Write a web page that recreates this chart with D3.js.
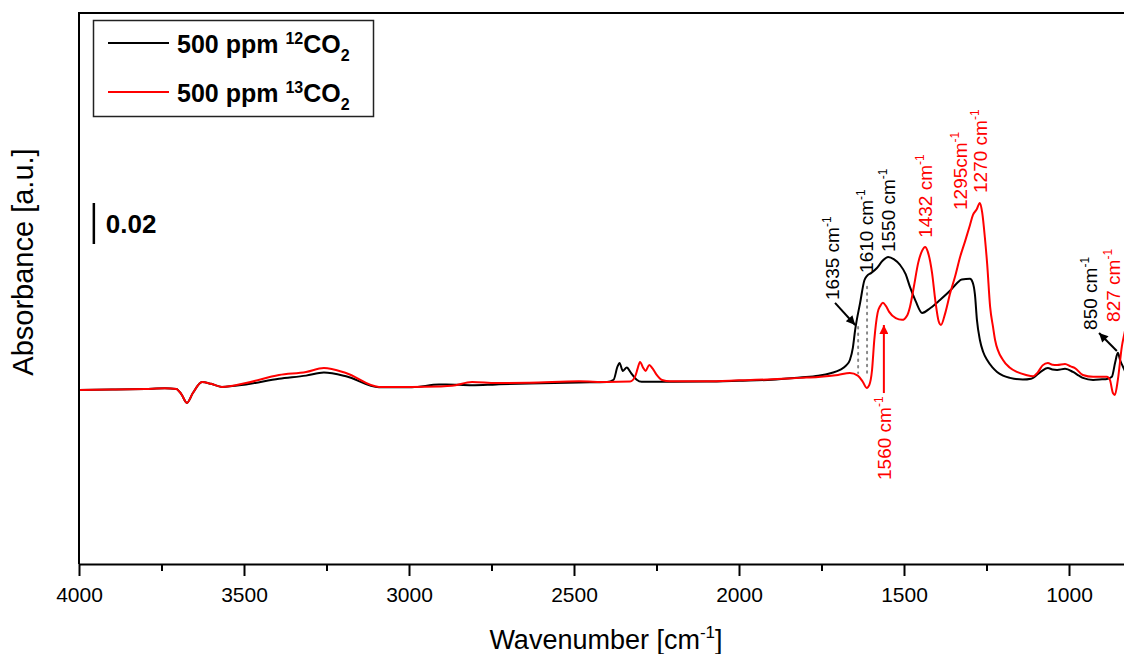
<!DOCTYPE html>
<html>
<head>
<meta charset="utf-8">
<script src="https://cdn.jsdelivr.net/npm/d3@7"></script>
<style>
  html, body { margin: 0; padding: 0; background: #fff; }
  svg { display: block; font-family: "Liberation Sans", Arial, sans-serif; }
</style>
</head>
<body>
<script>
// Infrared difference spectra after 500 ppm 12CO2 / 13CO2 exposure
const wnBlack = [4000,3900,3800,3740,3705,3690,3673,3655,3627,3600,3567,3494,3394,3312,3258,3191,3091,2991,2909,2888,2809,2736,2636,2485,2400,2380,2368,2362,2352,2340,2328,2310,2295,2200,2100,2000,1900,1815,1760,1720,1694,1675,1664,1655,1648,1633,1620,1612,1600,1582,1565,1548,1530,1512,1495,1482,1465,1445,1420,1391,1360,1339,1325,1300,1292,1285,1279,1270,1260,1248,1232,1218,1200,1179,1140,1115,1085,1064,1050,1036,1012,988,970,958,927,900,885,870,860,852,845,836,820,800,700];
const absBlack = [-0.0005,-0.0003,0.0000,0.0003,0.0000,-0.0025,-0.0068,-0.0020,0.0034,0.0025,0.0010,0.0022,0.0050,0.0065,0.0080,0.0062,0.0008,0.0008,0.0022,0.0022,0.0018,0.0022,0.0027,0.0032,0.0034,0.0045,0.0110,0.0127,0.0088,0.0105,0.0080,0.0045,0.0035,0.0035,0.0036,0.0040,0.0045,0.0056,0.0064,0.0078,0.0093,0.0115,0.0141,0.0200,0.0288,0.0420,0.0530,0.0552,0.0565,0.0590,0.0625,0.0644,0.0632,0.0605,0.0560,0.0498,0.0430,0.0371,0.0395,0.0434,0.0480,0.0517,0.0534,0.0537,0.0520,0.0460,0.0337,0.0239,0.0180,0.0141,0.0105,0.0083,0.0065,0.0054,0.0046,0.0050,0.0085,0.0102,0.0095,0.0093,0.0098,0.0083,0.0065,0.0054,0.0044,0.0047,0.0049,0.0060,0.0130,0.0176,0.0140,0.0107,0.0060,0.0050,0.0050];

const wnRed = [4000,3900,3800,3740,3705,3690,3673,3655,3627,3600,3567,3494,3394,3312,3258,3191,3091,2991,2909,2870,2809,2736,2636,2485,2400,2330,2315,2307,2300,2291,2283,2272,2262,2250,2233,2209,2100,2000,1900,1815,1760,1700,1664,1640,1625,1613,1605,1597,1590,1580,1572,1564,1555,1545,1525,1506,1490,1482,1470,1457,1445,1436,1428,1415,1405,1395,1388,1375,1360,1345,1330,1315,1300,1291,1280,1270,1263,1255,1248,1239,1230,1224,1200,1180,1158,1130,1109,1095,1080,1064,1050,1036,1012,995,982,958,927,885,876,867,861,852,840,830,815,800,700];
const absRed = [-0.0005,-0.0003,0.0000,0.0003,0.0000,-0.0025,-0.0068,-0.0020,0.0034,0.0025,0.0010,0.0029,0.0068,0.0083,0.0102,0.0078,0.0010,0.0010,0.0012,0.0015,0.0034,0.0029,0.0030,0.0037,0.0034,0.0036,0.0060,0.0100,0.0132,0.0105,0.0088,0.0117,0.0100,0.0070,0.0044,0.0038,0.0038,0.0042,0.0047,0.0054,0.0058,0.0068,0.0078,0.0065,0.0035,0.0005,0.0020,0.0090,0.0239,0.0371,0.0405,0.0420,0.0405,0.0376,0.0345,0.0337,0.0360,0.0400,0.0500,0.0615,0.0675,0.0693,0.0670,0.0566,0.0430,0.0330,0.0312,0.0370,0.0468,0.0550,0.0644,0.0720,0.0800,0.0849,0.0875,0.0907,0.0860,0.0740,0.0610,0.0400,0.0300,0.0239,0.0141,0.0105,0.0083,0.0068,0.0062,0.0080,0.0115,0.0127,0.0118,0.0117,0.0122,0.0110,0.0102,0.0068,0.0059,0.0059,0.0044,-0.0020,-0.0029,0.0044,0.0205,0.0288,0.0450,0.0600,0.0700];

const seriesNames = ["500 ppm ", "500 ppm "];
const seriesIsotopes = ["12", "13"];
const seriesColors = ["#000000", "#ff0000"];

const majorTicks = [4000, 3500, 3000, 2500, 2000, 1500, 1000];
const minorTicks = [3750, 3250, 2750, 2250, 1750, 1250, 750];

// Peak labels: text, superscript, colour, wavenumber / absorbance of the text start
const peakLabels = [
  { text: "1635 cm", sup: "-1", color: "#000", w: 1718, a: 0.0434 },
  { text: "1610 cm", sup: "-1", color: "#000", w: 1615, a: 0.0566 },
  { text: "1550 cm", sup: "-1", color: "#000", w: 1548, a: 0.0668 },
  { text: "1432 cm", sup: "-1", color: "#ff0000", w: 1436, a: 0.0737 },
  { text: "1295cm", sup: "-1", color: "#ff0000", w: 1330, a: 0.0873 },
  { text: "1270 cm", sup: "-1", color: "#ff0000", w: 1270, a: 0.0956 },
  { text: "1560 cm", sup: "-1", color: "#ff0000", w: 1561, a: -0.0444 },
  { text: "850 cm", sup: "-1", color: "#000", w: 936, a: 0.0288 },
  { text: "827 cm", sup: "-1", color: "#ff0000", w: 866, a: 0.0327 }
];

// Arrows from label to band: [w0, a0] -> [w1, a1]
const peakArrows = [
  { color: "#000", from: [1709, 0.0420], to: [1648, 0.0312] },
  { color: "#ff0000", from: [1561, -0.0020], to: [1561, 0.0312] },
  { color: "#000", from: [855, 0.0185], to: [909, 0.0273] }
];

// Dotted guides under the 1635/1610 cm-1 edge
const guideLines = [
  { w: 1612, a0: 0.0498, a1: 0.0078 },
  { w: 1639, a0: 0.0302, a1: 0.0078 }
];

const scaleBar = { w: 3955, a0: 0.0707, a1: 0.0907, label: "0.02" };

const W = 1124, H = 654;
const plotLeft = 79, plotTop = 13, plotBottom = 564;

const x = d3.scaleLinear().domain([4000, 600]).range([plotLeft, plotLeft + 3400 * 0.33]);
const y = d3.scaleLinear().domain([-0.0854, 0.1834]).range([plotBottom, plotTop]);

const svg = d3.select("body").append("svg").attr("width", W).attr("height", H);

const defs = svg.append("defs");
defs.append("clipPath").attr("id", "plot-clip")
  .append("rect").attr("x", plotLeft).attr("y", plotTop)
  .attr("width", x.range()[1] - plotLeft).attr("height", plotBottom - plotTop);

["#000", "#ff0000"].forEach((c, i) => {
  defs.append("marker").attr("id", "arrow" + i)
    .attr("viewBox", "0 0 10 10").attr("refX", 10).attr("refY", 5)
    .attr("markerWidth", 11).attr("markerHeight", 9).attr("markerUnits", "userSpaceOnUse")
    .attr("orient", "auto")
    .append("path").attr("d", "M0,0 L10,5 L0,10 z").attr("fill", c);
});

const plot = svg.append("g").attr("clip-path", "url(#plot-clip)");

// dotted guides
plot.selectAll("line.guide").data(guideLines).join("line")
  .attr("class", "guide")
  .attr("x1", d => x(d.w)).attr("x2", d => x(d.w))
  .attr("y1", d => y(d.a0)).attr("y2", d => y(d.a1))
  .attr("stroke", "#888").attr("stroke-width", 2)
  .attr("stroke-dasharray", "1.5,5").attr("stroke-linecap", "round");

const line = d3.line().x(d => x(d[0])).y(d => y(d[1])).curve(d3.curveMonotoneX);
const spectra = [d3.zip(wnBlack, absBlack), d3.zip(wnRed, absRed)];

plot.selectAll("path.spectrum").data(spectra).join("path")
  .attr("class", "spectrum")
  .attr("d", line)
  .attr("fill", "none")
  .attr("stroke", (d, i) => seriesColors[i])
  .attr("stroke-width", 2)
  .attr("stroke-linejoin", "round");

// arrows
svg.selectAll("line.arrow").data(peakArrows).join("line")
  .attr("class", "arrow")
  .attr("x1", d => x(d.from[0])).attr("y1", d => y(d.from[1]))
  .attr("x2", d => x(d.to[0])).attr("y2", d => y(d.to[1]))
  .attr("stroke", d => d.color).attr("stroke-width", 2)
  .attr("marker-end", d => d.color === "#000" ? "url(#arrow0)" : "url(#arrow1)");

// peak labels (rotated, reading bottom to top)
const labelSize = 19;
const lab = svg.selectAll("text.peak").data(peakLabels).join("text")
  .attr("class", "peak")
  .attr("transform", d => `translate(${x(d.w) + 7},${y(d.a)}) rotate(-90)`)
  .attr("fill", d => d.color)
  .attr("font-size", labelSize);
lab.append("tspan").text(d => d.text);
lab.append("tspan").attr("dy", -8).attr("font-size", 12).text(d => d.sup);

// axes frame
svg.append("line").attr("x1", plotLeft).attr("x2", W).attr("y1", plotTop).attr("y2", plotTop)
  .attr("stroke", "#000").attr("stroke-width", 2);
svg.append("line").attr("x1", plotLeft).attr("x2", plotLeft).attr("y1", plotTop - 1).attr("y2", plotBottom)
  .attr("stroke", "#000").attr("stroke-width", 2);

const xAxis = svg.append("g").attr("transform", `translate(0,${plotBottom})`)
  .call(d3.axisBottom(x).tickValues(majorTicks).tickSize(12).tickSizeOuter(0).tickPadding(11).tickFormat(d3.format("d")));
xAxis.select(".domain").attr("stroke-width", 2);
xAxis.selectAll(".tick line").attr("stroke-width", 2);
xAxis.selectAll(".tick text").attr("font-size", 21).attr("font-family", "Liberation Sans, Arial, sans-serif").attr("fill", "#000");

const xMinor = svg.append("g").attr("transform", `translate(0,${plotBottom})`)
  .call(d3.axisBottom(x).tickValues(minorTicks).tickSize(7).tickSizeOuter(0).tickFormat(""));
xMinor.select(".domain").remove();
xMinor.selectAll(".tick line").attr("stroke-width", 2);

// axis titles
const xt = svg.append("text").attr("x", 606).attr("y", 649).attr("text-anchor", "middle")
  .attr("font-size", 27).attr("fill", "#000");
xt.append("tspan").text("Wavenumber [cm");
xt.append("tspan").attr("dy", -11).attr("font-size", 17).text("-1");
xt.append("tspan").attr("dy", 11).text("]");

svg.append("text").attr("transform", "translate(33,262) rotate(-90)")
  .attr("text-anchor", "middle").attr("font-size", 29).attr("fill", "#000")
  .text("Absorbance [a.u.]");

// scale bar
svg.append("line").attr("x1", x(scaleBar.w)).attr("x2", x(scaleBar.w))
  .attr("y1", y(scaleBar.a0)).attr("y2", y(scaleBar.a1))
  .attr("stroke", "#000").attr("stroke-width", 2.5);
svg.append("text").attr("x", x(scaleBar.w) + 12).attr("y", y((scaleBar.a0 + scaleBar.a1) / 2) + 9)
  .attr("font-size", 26).attr("font-weight", "bold").attr("fill", "#000").text(scaleBar.label);

// legend
const legend = svg.append("g");
legend.append("rect").attr("x", 93.5).attr("y", 20.5).attr("width", 280).attr("height", 96)
  .attr("fill", "#fff").attr("stroke", "#222").attr("stroke-width", 1.5);
seriesNames.forEach((name, i) => {
  const cy = 43 + i * 49;
  legend.append("line").attr("x1", 108).attr("x2", 169).attr("y1", cy).attr("y2", cy)
    .attr("stroke", seriesColors[i]).attr("stroke-width", 2);
  const t = legend.append("text").attr("x", 177).attr("y", cy + 10)
    .attr("font-size", 25).attr("font-weight", "bold").attr("fill", "#000");
  t.append("tspan").text(name);
  t.append("tspan").attr("dy", -9).attr("font-size", 16).text(seriesIsotopes[i]);
  t.append("tspan").attr("dy", 9).text("CO");
  t.append("tspan").attr("dy", 8).attr("font-size", 16).text("2");
});
</script>
</body>
</html>
